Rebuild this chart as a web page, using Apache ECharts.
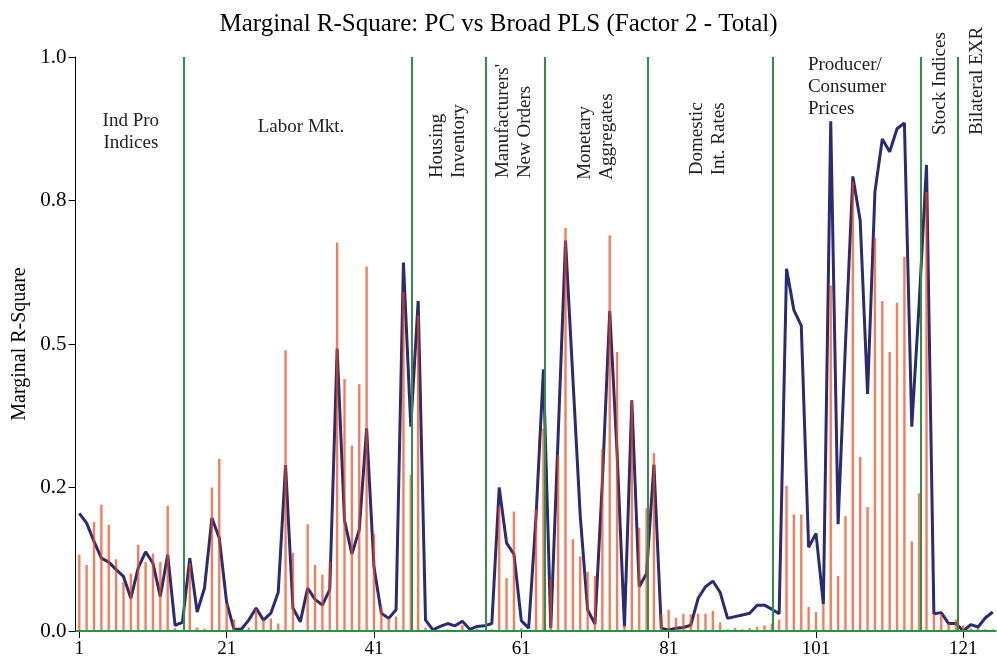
<!DOCTYPE html>
<html>
<head>
<meta charset="utf-8">
<script src="https://cdn.jsdelivr.net/npm/echarts@6/dist/echarts.min.js"></script>
<style>
  html, body { margin: 0; padding: 0; background: #ffffff; }
  #chart { width: 997px; height: 660px; }
</style>
</head>
<body>
<div id="chart"></div>
<script>
// Series index 1..125
const categories = Array.from({ length: 125 }, (_, i) => String(i + 1));

// Broad PLS marginal R-square (bars)
const plsValues = [
  0.133, 0.115, 0.19, 0.22, 0.185, 0.125, 0.085, 0.10, 0.15, 0.12, 0.135, 0.12, 0.218, 0.005, 0.0,
  0.118, 0.006, 0.004, 0.25, 0.30, 0.047, 0.02, 0.0, 0.006, 0.038, 0.02, 0.022, 0.013, 0.489, 0.136, 0.002,
  0.186, 0.115, 0.098, 0.12, 0.677, 0.439, 0.323, 0.43, 0.635, 0.169, 0.042, 0.022, 0.025, 0.59, 0.272, 0.55,
  0.006, 0.0, 0.002, 0.003, 0.002, 0.01, 0.0, 0.004, 0.0, 0.003, 0.216, 0.092, 0.208, 0.005, 0.0,
  0.212, 0.353, 0.09, 0.306, 0.702, 0.16, 0.13, 0.103, 0.096, 0.317, 0.689, 0.486, 0.01, 0.40, 0.18, 0.214, 0.31,
  0.03, 0.037, 0.023, 0.03, 0.029, 0.03, 0.03, 0.035, 0.015, 0.003, 0.005, 0.003, 0.005, 0.007, 0.01, 0.013, 0.02,
  0.253, 0.203, 0.203, 0.042, 0.033, 0.047, 0.602, 0.096, 0.2, 0.782, 0.303, 0.216, 0.685, 0.575, 0.486, 0.572,
  0.652, 0.156, 0.24, 0.765, 0.03, 0.03, 0.013, 0.02, 0.01, 0.005, 0.005, 0.003, 0.003
];

// PC marginal R-square (line)
const pcValues = [
  0.205, 0.188, 0.156, 0.127, 0.12, 0.107, 0.095, 0.057, 0.11, 0.138, 0.118, 0.06, 0.133, 0.01, 0.015,
  0.127, 0.033, 0.075, 0.197, 0.162, 0.05, 0.003, 0.003, 0.019, 0.04, 0.019, 0.031, 0.067, 0.289, 0.04, 0.016,
  0.075, 0.055, 0.045, 0.072, 0.492, 0.193, 0.134, 0.176, 0.353, 0.112, 0.031, 0.022, 0.037, 0.642, 0.356, 0.575,
  0.019, 0.002, 0.008, 0.013, 0.009, 0.017, 0.003, 0.008, 0.009, 0.013, 0.25, 0.153, 0.134, 0.018, 0.005,
  0.2, 0.456, 0.005, 0.34, 0.68, 0.44, 0.2, 0.037, 0.012, 0.26, 0.558, 0.31, 0.008, 0.402, 0.077, 0.1, 0.29,
  0.005, 0.002, 0.005, 0.006, 0.01, 0.057, 0.077, 0.087, 0.067, 0.022, 0.025, 0.028, 0.031, 0.045, 0.045, 0.038, 0.03,
  0.631, 0.559, 0.532, 0.146, 0.17, 0.047, 0.888, 0.186, 0.5, 0.792, 0.715, 0.413, 0.765, 0.857, 0.835, 0.875,
  0.885, 0.356, 0.57, 0.812, 0.03, 0.032, 0.013, 0.013, 0.0, 0.011, 0.007, 0.023, 0.033
];

// Boundaries between variable groups (in index units)
const groupBreaks = [15.2, 46.1, 56.2, 64.2, 78.2, 95.1, 115.2, 120.2];

// Y tick labels for 0, 0.25, 0.5, 0.75, 1
const yTickLabels = ['0.0', '0.2', '0.5', '0.8', '1.0'];

// Group names and where they sit (index units, R-square units)
const groupLabels = [
  { text: 'Ind Pro\nIndices', x: 8.0, y: 0.869, rotated: false, align: 'center' },
  { text: 'Labor Mkt.', x: 31.1, y: 0.878, rotated: false, align: 'center' },
  { text: 'Housing\nInventory', x: 51.0, y: 0.789, rotated: true },
  { text: "Manufacturers'\nNew Orders", x: 60.0, y: 0.789, rotated: true },
  { text: 'Monetary\nAggregates', x: 71.1, y: 0.786, rotated: true },
  { text: 'Domestic\nInt. Rates', x: 86.4, y: 0.794, rotated: true },
  { text: 'Producer/\nConsumer\nPrices', x: 99.9, y: 0.948, rotated: false, align: 'left' },
  { text: 'Stock Indices', x: 117.8, y: 0.864, rotated: true },
  { text: 'Bilateral EXR', x: 122.9, y: 0.864, rotated: true }
];

const SERIF = '"Liberation Serif", "DejaVu Serif", serif';
const chart = echarts.init(document.getElementById('chart'), null, { renderer: 'canvas' });

chart.setOption({
  animation: false,
  backgroundColor: '#ffffff',
  title: {
    text: 'Marginal R-Square: PC vs Broad PLS (Factor 2 - Total)',
    left: 'center',
    top: 7,
    textStyle: { fontFamily: SERIF, fontSize: 25, fontWeight: 'normal', color: '#000' }
  },
  grid: { left: 75.6, right: 0.5, top: 57, bottom: 29, containLabel: false },
  xAxis: [
    {
      type: 'category',
      data: categories,
      boundaryGap: true,
      axisLine: { show: false },
      axisTick: { show: true, interval: 19, alignWithLabel: true, length: 7, lineStyle: { color: '#000', width: 1 } },
      axisLabel: { interval: 19, margin: 9, fontFamily: SERIF, fontSize: 19, color: '#000' },
      splitLine: { show: false }
    },
    {
      type: 'value',
      min: 0.5,
      max: 125.5,
      show: false,
      splitLine: { show: false }
    }
  ],
  yAxis: {
    type: 'value',
    min: 0,
    max: 1,
    interval: 0.25,
    name: 'Marginal R-Square',
    nameLocation: 'middle',
    nameGap: 42,
    nameTextStyle: { fontFamily: SERIF, fontSize: 20, color: '#000' },
    axisLine: { show: true, lineStyle: { color: '#000', width: 1 } },
    axisTick: { show: true, length: 7, lineStyle: { color: '#000', width: 1 } },
    axisLabel: {
      margin: 9,
      fontFamily: SERIF,
      fontSize: 21,
      color: '#000',
      formatter: v => yTickLabels[Math.round(v * 4)]
    },
    splitLine: { show: false }
  },
  series: [
    {
      name: 'PC',
      type: 'line',
      data: pcValues,
      xAxisIndex: 0,
      symbol: 'none',
      lineStyle: { color: '#2B2B72', width: 3 },
      z: 2
    },
    {
      name: 'Broad PLS',
      type: 'bar',
      data: plsValues,
      xAxisIndex: 0,
      barWidth: 2.4,
      itemStyle: { color: 'rgba(239, 70, 20, 0.7)' },
      z: 3
    },
    {
      name: 'groups',
      type: 'line',
      xAxisIndex: 1,
      data: [[0.5, 0], [125.5, 0]],
      symbol: 'none',
      lineStyle: { color: '#2F8F45', width: 2 },
      silent: true,
      z: 4,
      markLine: {
        silent: true,
        symbol: 'none',
        label: { show: false },
        lineStyle: { color: '#2F8F45', width: 2, type: 'solid' },
        data: groupBreaks.map(b => ({ xAxis: b }))
      }
    }
  ]
});

// Group names drawn as text annotations anchored in data space
const graphics = groupLabels.map(g => {
  const p = chart.convertToPixel({ seriesIndex: 2 }, [g.x, g.y]);
  return {
    type: 'text',
    x: p[0],
    y: p[1],
    rotation: g.rotated ? Math.PI / 2 : 0,
    z: 10,
    style: {
      text: g.text,
      fill: '#222',
      font: '19px ' + SERIF,
      lineHeight: 22,
      textAlign: g.rotated ? 'left' : g.align,
      textVerticalAlign: 'middle'
    }
  };
});
chart.setOption({ graphic: graphics });
</script>
</body>
</html>
